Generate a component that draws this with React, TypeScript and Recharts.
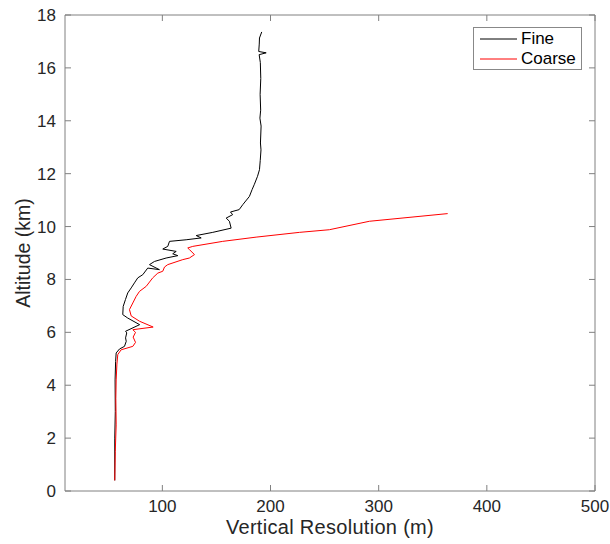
import React from 'react';
import { LineChart, Line, XAxis, YAxis, Legend } from 'recharts';

// Vertical resolution (m) vs altitude (km)
const fineRes = [56, 56, 56.5, 56.3, 56.8, 57.3, 60.4, 65, 66.6, 66, 67.1, 66, 79, 68, 63.4, 63.8, 65.9, 68, 71.2, 74.2, 77.3, 81.9, 86.5, 97.3, 88.1, 92.7, 103.5, 114.3, 109.6, 112.8, 100.4, 105, 106.6, 122, 135.9, 131.3, 146.6, 163.6, 162, 159, 165, 163, 171, 174.4, 180.5, 183, 185.1, 188, 189.8, 190.5, 191.2, 190.7, 191.3, 190.2, 190.9, 190.4, 191, 190.6, 189.5, 196, 189.1, 189.6, 189.8, 191.9];
const fineAlt = [0.4, 2.0, 3.0, 4.2, 4.9, 5.22, 5.37, 5.47, 5.66, 5.79, 5.98, 6.04, 6.29, 6.54, 6.67, 6.98, 7.24, 7.49, 7.68, 7.87, 8.06, 8.18, 8.43, 8.37, 8.56, 8.68, 8.81, 8.9, 8.97, 9.06, 9.15, 9.25, 9.44, 9.5, 9.57, 9.66, 9.78, 9.94, 10.2, 10.32, 10.45, 10.55, 10.64, 10.83, 11.14, 11.4, 11.6, 11.9, 12.15, 12.5, 12.9, 13.16, 13.8, 14.1, 14.4, 15.0, 15.6, 16.2, 16.5, 16.57, 16.62, 16.9, 17.13, 17.36];

const coarseRes = [56, 56.5, 57.3, 57, 57.3, 58, 58.8, 61.9, 72.7, 75.2, 73, 75.2, 72.7, 91.5, 78.9, 71.2, 69.6, 72.7, 75.8, 78.9, 85.1, 91.1, 95.8, 100.4, 102, 105, 118.9, 125, 129.7, 125, 123.5, 128.1, 155.8, 186.7, 226.7, 254.4, 291.4, 363.8];
const coarseAlt = [0.4, 1.5, 2.5, 3.5, 4.2, 4.8, 5.16, 5.34, 5.47, 5.62, 5.82, 6.0, 6.1, 6.2, 6.42, 6.62, 6.86, 7.11, 7.36, 7.55, 7.74, 8.06, 8.24, 8.31, 8.47, 8.56, 8.75, 8.81, 8.94, 9.13, 9.19, 9.25, 9.44, 9.6, 9.78, 9.88, 10.2, 10.49];

const xTicks = [100, 200, 300, 400, 500];
const yTicks = [0, 2, 4, 6, 8, 10, 12, 14, 16, 18];
const xDomain = [10, 500];
const yDomain = [0, 18];

const fine = fineRes.map((res, i) => ({ res, alt: fineAlt[i] }));
const coarse = coarseRes.map((res, i) => ({ res, alt: coarseAlt[i] }));

const font = '"Liberation Sans", Arial, Helvetica, sans-serif';
const axisColor = '#808080';
const textColor = '#262626';
const TICK = 6;

// chart geometry (plot box = margins + axis sizes)
const W = 610;
const H = 544;
const M = { top: 15, right: 15, bottom: 0, left: 0 };
const Y_AXIS_W = 65;
const X_AXIS_H = 53;
const box = {
  x: M.left + Y_AXIS_W,
  y: M.top,
  w: W - M.left - M.right - Y_AXIS_W,
  h: H - M.top - M.bottom - X_AXIS_H,
};

// top/right frame with inward ticks (matlab "box on")
const Frame = () => {
  const sx = (v: number) => box.x + ((v - xDomain[0]) / (xDomain[1] - xDomain[0])) * box.w;
  const sy = (v: number) => box.y + box.h - ((v - yDomain[0]) / (yDomain[1] - yDomain[0])) * box.h;
  const right = box.x + box.w;
  return (
    <svg width={W} height={H} style={{ position: 'absolute', left: 0, top: 0 }}>
      <line x1={box.x} y1={box.y} x2={right} y2={box.y} stroke={axisColor} strokeWidth={1} />
      <line x1={right} y1={box.y} x2={right} y2={box.y + box.h} stroke={axisColor} strokeWidth={1} />
      {xTicks.map((t) => (
        <line key={`tx${t}`} x1={sx(t)} y1={box.y} x2={sx(t)} y2={box.y + TICK} stroke={axisColor} strokeWidth={1} />
      ))}
      {yTicks.map((t) => (
        <line key={`ty${t}`} x1={right - TICK} y1={sy(t)} x2={right} y2={sy(t)} stroke={axisColor} strokeWidth={1} />
      ))}
    </svg>
  );
};

const legendItems = [
  { name: 'Fine', color: '#000' },
  { name: 'Coarse', color: '#ff0000' },
];

// legend layer covers the whole chart: frame + boxed legend in the top right
const LegendLayer = () => (
  <div style={{ position: 'relative', width: W, height: H, pointerEvents: 'none' }}>
    <Frame />
    <div
      style={{
        position: 'absolute',
        left: 473,
        top: 27,
        boxSizing: 'border-box',
        width: 109,
        height: 43,
        border: '1px solid #888',
        background: '#fff',
        paddingTop: 1,
        fontFamily: font,
        fontSize: 17,
        color: '#000',
      }}
    >
      {legendItems.map((item) => (
        <div key={item.name} style={{ display: 'flex', alignItems: 'center', height: 20 }}>
          <svg width={37} height={2} style={{ marginLeft: 6 }}>
            <line x1={0} y1={1} x2={37} y2={1} stroke={item.color} strokeWidth={1} />
          </svg>
          <span style={{ marginLeft: 4, lineHeight: '20px' }}>{item.name}</span>
        </div>
      ))}
    </div>
  </div>
);

const App: React.FC = () => {
  const tickStyle = { fill: textColor, fontSize: 17, fontFamily: font };
  return (
    <div style={{ position: 'absolute', left: 0, top: 0, width: W, height: H, background: '#fff' }}>
      <LineChart width={W} height={H} margin={M}>
        <XAxis
          dataKey="res"
          type="number"
          domain={xDomain}
          ticks={xTicks}
          allowDataOverflow
          height={X_AXIS_H}
          stroke={axisColor}
          tickSize={-TICK}
          tickMargin={15}
          tick={tickStyle}
          label={{
            value: 'Vertical Resolution (m)',
            position: 'insideBottom',
            offset: 10,
            style: { fill: textColor, fontSize: 20, fontFamily: font, letterSpacing: 0.3 },
          }}
        />
        <YAxis
          type="number"
          domain={yDomain}
          ticks={yTicks}
          allowDataOverflow
          width={Y_AXIS_W}
          stroke={axisColor}
          tickSize={-TICK}
          tickMargin={15}
          tick={tickStyle}
          label={{
            value: 'Altitude (km)',
            angle: -90,
            position: 'insideLeft',
            offset: 23,
            style: { fill: textColor, fontSize: 19.5, fontFamily: font, textAnchor: 'middle' },
          }}
        />
        <Legend
          layout="vertical"
          align="center"
          verticalAlign="middle"
          content={() => <LegendLayer />}
          wrapperStyle={{ left: 0, top: 0, width: W, height: H, pointerEvents: 'none' }}
        />
        <Line
          data={fine}
          dataKey="alt"
          stroke="#000"
          strokeWidth={1}
          dot={false}
          type="linear"
          isAnimationActive={false}
        />
        <Line
          data={coarse}
          dataKey="alt"
          stroke="#ff0000"
          strokeWidth={1}
          dot={false}
          type="linear"
          isAnimationActive={false}
        />
      </LineChart>
    </div>
  );
};

export default App;
